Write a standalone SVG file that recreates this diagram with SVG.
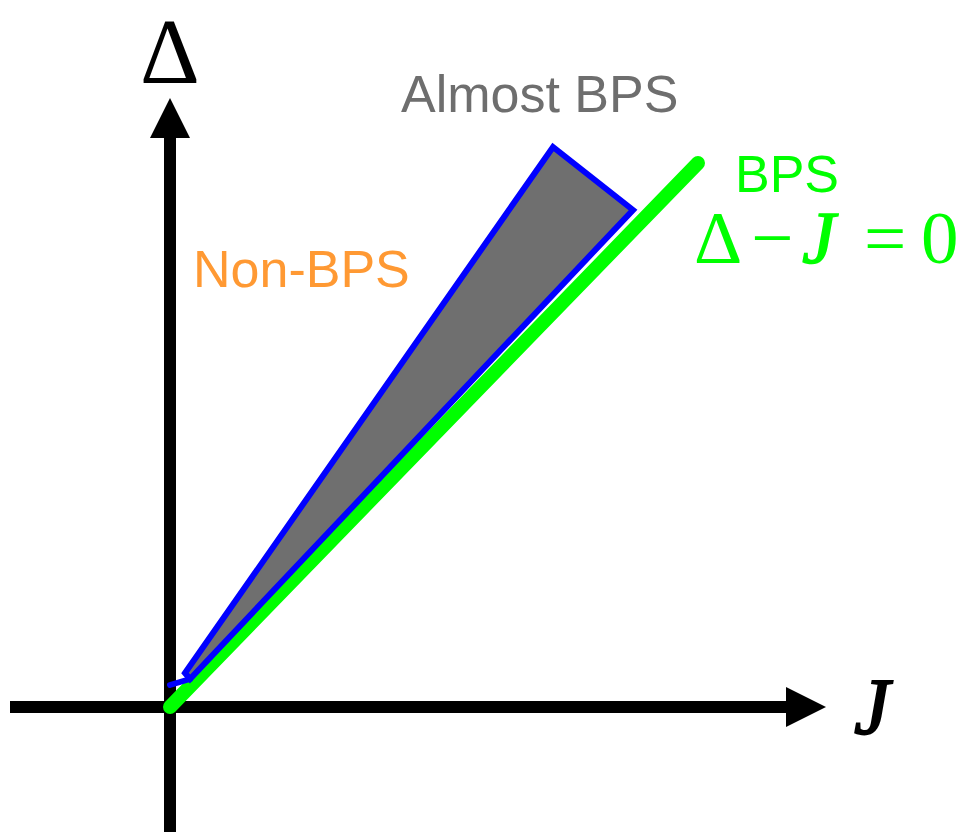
<svg xmlns="http://www.w3.org/2000/svg" width="963" height="832" viewBox="0 0 963 832">
<style>
.sans{font-family:"Liberation Sans",Arial,sans-serif;font-size:52px}
.serif{font-family:"Liberation Serif","Times New Roman",serif}
.ax{stroke:#000;stroke-width:12;fill:none}
.grn{fill:#00ff00}
</style>
<rect width="963" height="832" fill="#fff"/>
<g id="axes">
<line class="ax" x1="170" y1="832" x2="170" y2="134"/>
<polygon points="170,98 150,138 190,138" fill="#000"/>
<line class="ax" x1="10" y1="707" x2="790" y2="707"/>
<polygon points="826,707 786,687 786,727" fill="#000"/>
<text class="serif" x="170" y="83" font-size="93" text-anchor="middle">Δ</text>
<text class="serif" x="854" y="734" font-size="80" font-style="italic" stroke="#000" stroke-width="2">J</text>
</g>
<g id="bps-line">
<line x1="170" y1="707" x2="698" y2="163" stroke="#00ff00" stroke-width="14" stroke-linecap="round"/>
</g>
<g id="almost-bps-region">
<polygon points="185,673 553,147 633,210 190,679" fill="#6f6f6f" stroke="#0000ff" stroke-width="6"/>
<line x1="190" y1="679" x2="170" y2="685" stroke="#0000ff" stroke-width="6" stroke-linecap="round"/>
</g>
<g id="labels">
<text class="sans" x="401" y="112" fill="#6e6e6e">Almost BPS</text>
<text class="sans" x="193" y="287" fill="#ff9933">Non-BPS</text>
<text class="sans grn" x="735" y="192">BPS</text>
<g class="serif grn" font-size="75">
<text x="694" y="263">Δ</text>
<text x="751" y="263">−</text>
<text x="802" y="263" font-style="italic" stroke="#00ff00" stroke-width="1.5">J</text>
<text x="864" y="263">=</text>
<text x="921" y="263">0</text>
</g>
</g>
</svg>
